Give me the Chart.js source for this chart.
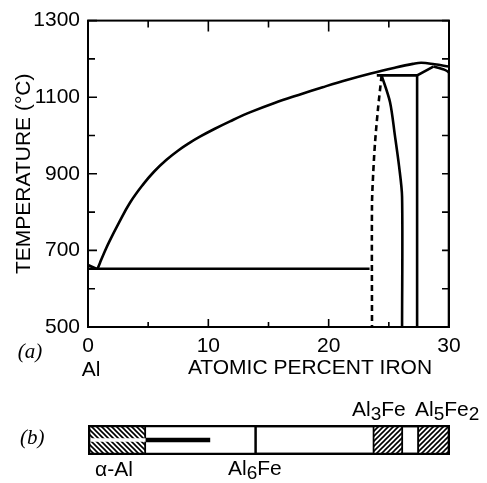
<!DOCTYPE html>
<html>
<head>
<meta charset="utf-8">
<script src="https://cdn.jsdelivr.net/npm/chart.js@4.4.0/dist/chart.umd.min.js"></script>
<style>
  body { margin: 0; background: #fff; }
  #wrap { position: relative; width: 487px; height: 483px; }
  canvas { position: absolute; left: 0; }
  #diagrama { top: 0; }
  #fases { top: 400px; }
</style>
</head>
<body>
<div id="wrap">
  <canvas id="diagrama" width="487" height="400"></canvas>
  <canvas id="fases" width="487" height="83"></canvas>
</div>
<script>
// Pontos: [% atômico de Fe, temperatura °C]
const liquidus = [[0.8, 652], [1.0, 668], [1.4, 698], [1.8, 725], [2.5, 768], [3.5, 825], [4.6, 873], [5.5, 906], [6.5, 936], [7.5, 961], [8.5, 982], [9.3, 997], [10.5, 1017], [11.8, 1037], [13.5, 1061], [15.5, 1085], [17.5, 1106], [19.5, 1126], [21.5, 1145], [23.5, 1162], [25.5, 1177], [27.0, 1187], [27.7, 1190], [28.8, 1186], [30, 1180]];
const alPuro = [[0, 662], [0.7, 652]];
const eutetico = [[0, 652], [23.4, 652]];
const solvusTracejado = [[24.4, 1157], [24.1, 1070], [23.85, 980], [23.7, 900], [23.6, 820], [23.6, 500]];
const limiteAl3FeEsq = [[24.4, 1157], [25.1, 1087], [25.5, 1001], [25.85, 920], [26.1, 840], [26.1, 500]];
const limiteAl3FeDir = [[27.35, 1157], [27.35, 500]];
const peritetico = [[24.0, 1157], [27.35, 1157], [28.7, 1180]];
const limiteAl5Fe2 = [[28.7, 1180], [29.6, 1172], [30, 1162], [30, 500]];

// Rótulos dos eixos
const rotulosX = [0, 10, 20, 30];
const rotulosY = [500, 700, 900, 1100, 1300];

// Faixa (b): intervalos em % atômico de Fe
const faixaTotal = [0, 30];
const alfaAl = [0, 4.8];
const tracoAlfa = [4.8, 10.1];
const regiaoAl6Fe = [13.8, 30];
const al3Fe = [23.6, 26.1];
const al5Fe2 = [27.3, 30];

const fonte = '"Liberation Sans", Arial, sans-serif';

// Converte pares [x, y] em pontos para o Chart.js
function pontos(lista) {
    return lista.map(p => ({ x: p[0], y: p[1] }));
}

function linha(lista, extra) {
    return Object.assign({
        data: pontos(lista),
        showLine: true,
        borderColor: '#000',
        borderWidth: 2.6,
        pointRadius: 0,
        fill: false,
        tension: 0
    }, extra || {});
}

// Moldura com marcas para dentro e textos soltos
const molduraPlugin = {
    id: 'moldura',
    afterDraw(chart) {
        const { ctx, chartArea: a, scales: { x, y } } = chart;
        ctx.save();
        ctx.strokeStyle = '#000';
        ctx.lineWidth = 2;
        ctx.strokeRect(a.left, a.top, a.right - a.left, a.bottom - a.top);
        ctx.lineWidth = 1.6;
        ctx.beginPath();
        y.ticks.forEach(t => {
            const py = y.getPixelForValue(t.value);
            const l = rotulosY.includes(t.value) ? 9 : 7;
            ctx.moveTo(a.left, py); ctx.lineTo(a.left + l, py);
            ctx.moveTo(a.right, py); ctx.lineTo(a.right - 7, py);
        });
        x.ticks.forEach(t => {
            const px = x.getPixelForValue(t.value);
            const maior = rotulosX.includes(t.value);
            ctx.moveTo(px, a.top); ctx.lineTo(px, a.top + (maior ? 11 : 7));
            ctx.moveTo(px, a.bottom); ctx.lineTo(px, a.bottom - (maior ? 8 : 5));
        });
        ctx.stroke();

        ctx.fillStyle = '#000';
        ctx.textBaseline = 'middle';
        ctx.textAlign = 'center';
        ctx.font = '21px ' + fonte;
        ctx.fillText('ATOMIC PERCENT IRON', 310, 368);
        ctx.fillText('Al', 91, 370);
        ctx.font = 'italic 21px "Liberation Serif", serif';
        ctx.fillText('(a)', 30, 352);
        ctx.restore();
    }
};

new Chart(document.getElementById('diagrama'), {
    type: 'scatter',
    data: {
        datasets: [
            linha(liquidus, { tension: 0.4 }),
            linha(alPuro),
            linha(eutetico),
            linha(solvusTracejado, { borderDash: [6, 4], tension: 0.3 }),
            linha(limiteAl3FeEsq, { tension: 0.3 }),
            linha(limiteAl3FeDir),
            linha(peritetico),
            linha(limiteAl5Fe2, { tension: 0.2 })
        ]
    },
    options: {
        responsive: false,
        animation: false,
        layout: { padding: { top: 18, right: 38, left: 0, bottom: 0 } },
        plugins: { legend: { display: false }, tooltip: { enabled: false } },
        scales: {
            x: {
                type: 'linear', min: 0, max: 30,
                grid: { display: false, drawTicks: false },
                border: { display: false },
                ticks: {
                    stepSize: 5, padding: 7, color: '#000', autoSkip: false, maxRotation: 0,
                    font: { family: fonte, size: 21 },
                    callback: v => rotulosX.includes(v) ? String(v) : ''
                },
                afterFit: s => { s.height = 73; }
            },
            y: {
                type: 'linear', min: 500, max: 1300,
                grid: { display: false, drawTicks: false },
                border: { display: false },
                ticks: {
                    stepSize: 100, padding: 8, color: '#000', autoSkip: false,
                    font: { family: fonte, size: 21 },
                    callback: v => rotulosY.includes(v) ? String(v) : ''
                },
                title: {
                    display: true, text: 'TEMPERATURE (°C)', color: '#000',
                    font: { family: fonte, size: 21 },
                    padding: { top: 12, bottom: 0 }
                },
                afterFit: s => { s.width = 88; }
            }
        }
    },
    plugins: [molduraPlugin]
});

// Padrão de hachura para as fases
function hachura(sentido) {
    const c = document.createElement('canvas');
    c.width = 5; c.height = 5;
    const g = c.getContext('2d');
    g.fillStyle = '#fff';
    g.fillRect(0, 0, 5, 5);
    g.strokeStyle = '#000';
    g.lineWidth = 1.6;
    g.beginPath();
    if (sentido === '/') {
        g.moveTo(-1, 6); g.lineTo(6, -1);
        g.moveTo(-1, 1); g.lineTo(1, -1);
        g.moveTo(4, 6); g.lineTo(6, 4);
    } else {
        g.moveTo(-1, -1); g.lineTo(6, 6);
        g.moveTo(-1, 4); g.lineTo(1, 6);
        g.moveTo(4, -1); g.lineTo(6, 1);
    }
    g.stroke();
    return g.createPattern(c, 'repeat');
}

function barra(intervalo, cor, borda, ordem) {
    return {
        data: [intervalo],
        backgroundColor: cor,
        borderColor: '#000',
        borderWidth: borda,
        borderSkipped: false,
        order: ordem
    };
}

// Texto com índices químicos rebaixados
function quimica(ctx, partes, x, y) {
    let cx = x;
    partes.forEach(([txt, sub]) => {
        ctx.font = (sub ? '19px ' : '21px ') + fonte;
        ctx.fillText(txt, cx, y + (sub ? 5 : 0));
        cx += ctx.measureText(txt).width;
    });
}

const rotulosFases = {
    id: 'rotulosFases',
    afterDraw(chart) {
        const ctx = chart.ctx;
        ctx.save();
        ctx.fillStyle = '#000';
        ctx.textBaseline = 'middle';
        ctx.textAlign = 'left';
        ctx.font = 'italic 21px "Liberation Serif", serif';
        ctx.fillText('(b)', 20, 38);
        quimica(ctx, [['α-Al', 0]], 95, 70);
        quimica(ctx, [['Al', 0], ['6', 1], ['Fe', 0]], 228, 69);
        quimica(ctx, [['Al', 0], ['3', 1], ['Fe', 0]], 352, 10);
        quimica(ctx, [['Al', 0], ['5', 1], ['Fe', 0], ['2', 1]], 415, 10);
        ctx.restore();
    }
};

new Chart(document.getElementById('fases'), {
    type: 'bar',
    data: {
        labels: ['b'],
        datasets: [
            barra(regiaoAl6Fe, 'rgba(0,0,0,0)', 2, 5),
            barra(alfaAl, hachura('\\'), 2, 4),
            barra(al3Fe, hachura('/'), 2, 4),
            barra(al5Fe2, hachura('/'), 2, 4),
            { data: [alfaAl], backgroundColor: '#fff', borderWidth: 0, barThickness: 3, order: 2 },
            { data: [tracoAlfa], backgroundColor: '#000', borderWidth: 0, barThickness: 4, order: 1 },
            barra(faixaTotal, 'rgba(0,0,0,0)', 2, 0)
        ]
    },
    options: {
        indexAxis: 'y',
        responsive: false,
        animation: false,
        layout: { padding: { top: 25, bottom: 28, left: 88, right: 37 } },
        plugins: { legend: { display: false }, tooltip: { enabled: false } },
        datasets: { bar: { grouped: false, barPercentage: 1, categoryPercentage: 1 } },
        scales: {
            x: { type: 'linear', min: 0, max: 30, display: false },
            y: { display: false }
        }
    },
    plugins: [rotulosFases]
});
</script>
</body>
</html>
